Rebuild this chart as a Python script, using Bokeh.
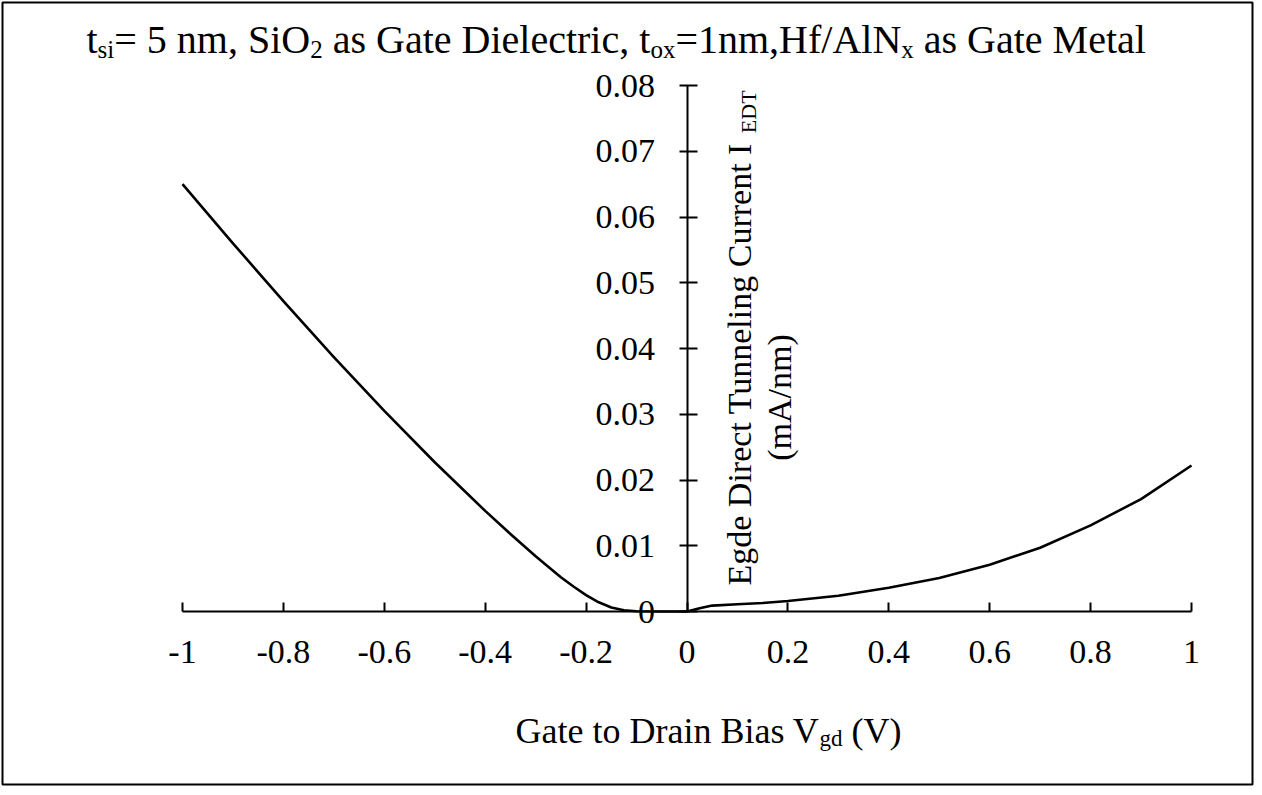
import math
from bokeh.plotting import figure
from bokeh.models import Range1d, FixedTicker, Label, NumeralTickFormatter
from bokeh.embed import file_html
from bokeh.resources import INLINE

# ---------------- data ----------------
vgd_neg = [-1.0, -0.9, -0.8, -0.7, -0.6, -0.5, -0.4, -0.35, -0.3, -0.25, -0.225,
           -0.2, -0.175, -0.15, -0.125, -0.1, -0.05, 0.0]
ied_neg = [0.0650, 0.0560, 0.0472, 0.0387, 0.0305, 0.0227, 0.0153, 0.0118, 0.0084,
           0.0052, 0.0038, 0.0025, 0.0014, 0.0006, 0.0002, 0.00003, 0.0, 0.0]

vgd_pos = [0.0, 0.025, 0.05, 0.1, 0.15, 0.2, 0.3, 0.4, 0.5, 0.6, 0.7, 0.8, 0.9, 1.0]
ied_pos = [0.0, 0.0005, 0.0009, 0.0011, 0.0013, 0.0016, 0.0024, 0.0036, 0.0051,
           0.0071, 0.0097, 0.0131, 0.0171, 0.0222]

x_ticks = [-1, -0.8, -0.6, -0.4, -0.2, 0, 0.2, 0.4, 0.6, 0.8, 1]
x_tick_labels = ["-1", "-0.8", "-0.6", "-0.4", "-0.2", "0", "0.2", "0.4", "0.6", "0.8", "1"]
y_ticks = [0, 0.01, 0.02, 0.03, 0.04, 0.05, 0.06, 0.07, 0.08]
y_tick_labels = ["0", "0.01", "0.02", "0.03", "0.04", "0.05", "0.06", "0.07", "0.08"]

title_runs = [("t", False), ("si", True), ("= 5 nm, SiO", False), ("2", True),
              (" as Gate Dielectric, t", False), ("ox", True), ("=1nm,Hf/AlN", False),
              ("x", True), (" as Gate Metal", False)]
xlabel_runs = [("Gate to Drain Bias V", False), ("gd", True), (" (V)", False)]
ylabel_runs = [("Egde Direct Tunneling Current I ", False), ("EDT", True)]
ylabel_line2 = "(mA/nm)"

# ---------------- layout ----------------
FIG_W, FIG_H = 1254, 786
B = 2
PAGE = 8
FRAME_LEFT = PAGE + B            # page px
FRAME_TOP = PAGE + B
FRAME_W = FIG_W - 2 * B
FRAME_H = FIG_H - 2 * B
FRAME_RIGHT = FRAME_LEFT + FRAME_W
FRAME_BOTTOM = FRAME_TOP + FRAME_H

# page pixel anchors of the axes
PX_XM1, PX_XP1 = 190.0, 1199.0   # x = -1 and x = 1
PY_Y0, PY_Y8 = 619.0, 93.0       # y = 0 and y = 0.08
sx_per = (PX_XP1 - PX_XM1) / 2.0
sy_per = (PY_Y0 - PY_Y8) / 0.08
x0 = -1 - (PX_XM1 - FRAME_LEFT) / sx_per
x1 = 1 + (FRAME_RIGHT - PX_XP1) / sx_per
y1 = 0.08 + (PY_Y8 - FRAME_TOP) / sy_per
y0 = -(FRAME_BOTTOM - PY_Y0) / sy_per

FONT = "Liberation Serif"

p = figure(width=FIG_W, height=FIG_H, output_backend="svg", toolbar_location=None,
           x_range=Range1d(x0, x1), y_range=Range1d(y0, y1),
           min_border_left=B, min_border_right=B, min_border_top=B, min_border_bottom=B)
p.outline_line_color = "black"
p.outline_line_width = 2
p.background_fill_color = "white"
p.border_fill_color = "white"
p.xgrid.visible = False
p.ygrid.visible = False

xa = p.xaxis[0]
xa.fixed_location = 0
xa.bounds = (-1, 1)
xa.ticker = FixedTicker(ticks=x_ticks)
xa.formatter = NumeralTickFormatter(format="0.[0]")
xa.major_label_overrides = dict(zip(x_ticks, x_tick_labels))
xa.minor_tick_line_color = None
xa.major_tick_in = 9
xa.major_tick_out = 0
xa.axis_line_width = 2
xa.major_tick_line_width = 2
xa.major_label_text_font = FONT
xa.major_label_text_font_size = "34px"
xa.major_label_text_color = "black"
xa.major_label_standoff = 29

ya = p.yaxis[0]
ya.fixed_location = 0
ya.bounds = (0, 0.08)
ya.ticker = FixedTicker(ticks=y_ticks)
ya.formatter = NumeralTickFormatter(format="0.[00]")
ya.major_label_overrides = dict(zip(y_ticks, y_tick_labels))
ya.minor_tick_line_color = None
ya.major_tick_in = 10
ya.major_tick_out = 8
ya.axis_line_width = 2
ya.major_tick_line_width = 2
ya.major_label_text_font = FONT
ya.major_label_text_font_size = "34px"
ya.major_label_text_color = "black"
ya.major_label_standoff = 24

p.line(vgd_neg, ied_neg, line_color="black", line_width=2.6, line_join="round")
p.line(vgd_pos, ied_pos, line_color="black", line_width=2.6, line_join="round")

# Times / Liberation Serif advance widths (1/1000 em)
W = {' ': 250, '(': 333, ')': 333, ',': 250, '-': 333, '.': 250, '/': 278, '=': 564,
     'A': 722, 'B': 667, 'C': 667, 'D': 722, 'E': 611, 'G': 722, 'H': 722, 'I': 333,
     'M': 889, 'N': 722, 'O': 722, 'S': 556, 'T': 611, 'V': 722,
     'a': 444, 'b': 500, 'c': 444, 'd': 500, 'e': 444, 'f': 333, 'g': 500, 'h': 500,
     'i': 278, 'l': 278, 'm': 778, 'n': 500, 'o': 500, 'r': 333, 's': 389, 't': 278,
     'u': 500, 'x': 500}


def tw(s, fs):
    return sum(W.get(c, 500) for c in s) * fs / 1000.0


def place_runs(runs, px, py, size, sub_size, drop, vertical=False):
    pos = 0.0
    for text, sub in runs:
        fs = sub_size if sub else size
        lead = len(text) - len(text.lstrip(" "))
        pos += tw(" " * lead, fs)
        body = text.strip(" ")
        if vertical:
            sx = px - FRAME_LEFT + (drop if sub else 0)
            sy = FRAME_BOTTOM - py + pos
            ang = math.pi / 2
        else:
            sx = px - FRAME_LEFT + pos
            sy = FRAME_BOTTOM - py - (drop if sub else 0)
            ang = 0
        p.add_layout(Label(x=sx, y=sy, x_units="screen", y_units="screen", text=body,
                           text_font=FONT, text_font_size=f"{fs}px", text_color="black",
                           text_baseline="alphabetic", text_align="left", angle=ang))
        pos += tw(body, fs) + tw(" " * (len(text) - lead - len(body)), fs)


# title
place_runs(title_runs, 94, 47, 40, 25, 10)
# x-axis title
place_runs(xlabel_runs, 523, 738, 36, 23, 8)
# y-axis title (rotated, two lines)
place_runs(ylabel_runs, 747, 593, 34, 22, 9, vertical=True)
l2w = tw(ylabel_line2, 34)
place_runs([(ylabel_line2, False)], 787, 405 + l2w / 2, 34, 22, 9, vertical=True)

open("out.html", "w").write(file_html(p, INLINE))
